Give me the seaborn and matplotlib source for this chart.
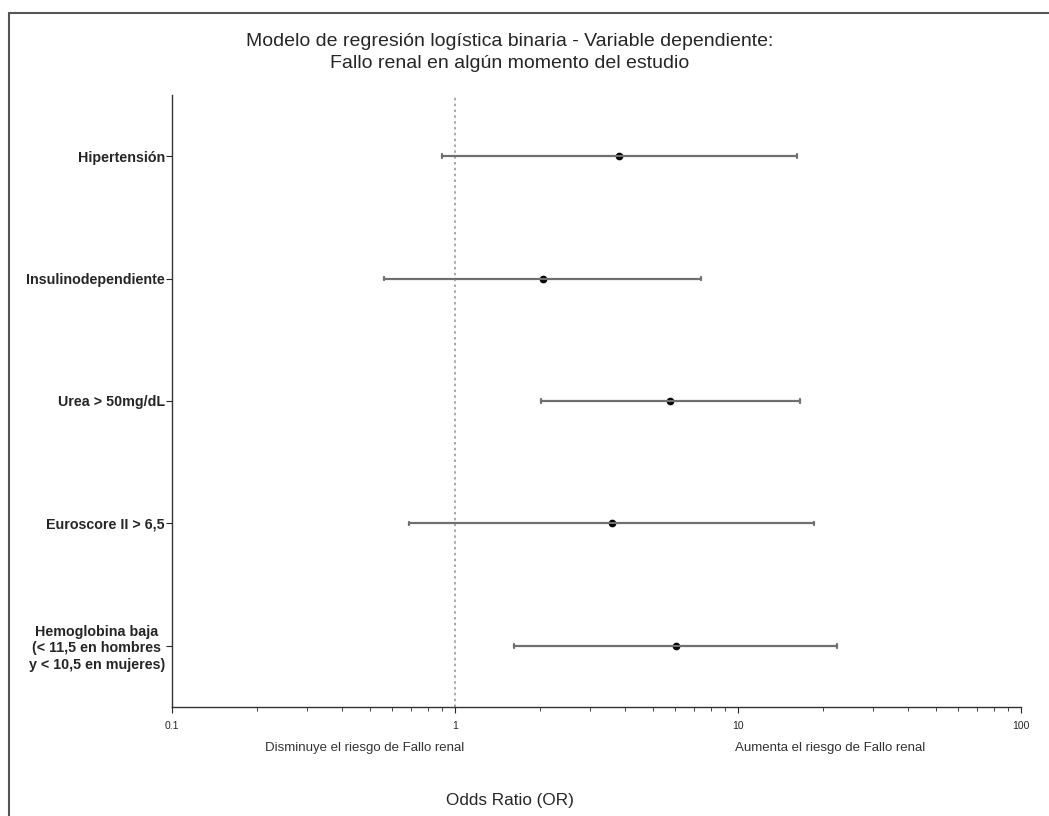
import numpy as np
import pandas as pd
import seaborn as sns
import matplotlib
matplotlib.use("Agg")
from matplotlib import pyplot as plt
from matplotlib.lines import Line2D

variables = [
    "Hipertensión",
    "Insulinodependiente",
    "Urea > 50mg/dL",
    "Euroscore II > 6,5",
    "Hemoglobina baja\n(< 11,5 en hombres\ny < 10,5 en mujeres)",
]
odds_ratio = [3.80, 2.05, 5.76, 3.59, 6.04]
ci_low = [0.90, 0.56, 2.02, 0.69, 1.62]
ci_high = [16.1, 7.40, 16.5, 18.5, 22.4]

# long table: median of (low, OR, high) is the OR, min/max give the interval
rows = []
for v, lo, o, hi in zip(variables, ci_low, odds_ratio, ci_high):
    for val in (lo, o, hi):
        rows.append({"variable": v, "or": val})
df = pd.DataFrame(rows)

sns.set_style("white")
plt.rcParams["font.family"] = ["Liberation Sans", "DejaVu Sans"]

fig = plt.figure(figsize=(10.49, 8.16), dpi=100)
W, H = 1049, 816
ax = fig.add_axes([172 / W, (H - 707) / H, (1021 - 172) / W, (707 - 95) / H])
ax.set_xscale("log")

sns.pointplot(data=df, x="or", y="variable", order=variables, orient="h",
              estimator="median", errorbar=("pi", 100), capsize=0.03,
              linestyle="none", color="black", markersize=3.5,
              err_kws={"color": "#707070", "linewidth": 1.6}, ax=ax)

ax.axvline(1, color="#9a9a9a", linestyle=(0, (1.5, 2)), linewidth=1.2, zorder=0)

ax.set_xlim(0.1, 100)
ax.set_ylim(len(variables) - 0.5, -0.5)
ax.set_xticks([0.1, 1, 10, 100])
ax.set_xticklabels(["0.1", "1", "10", "100"], fontsize=7.5)
ax.tick_params(axis="x", which="major", length=4, width=0.8, pad=6, bottom=True)
ax.tick_params(axis="x", which="minor", length=3, width=0.6, bottom=True)
ax.tick_params(axis="y", length=4, width=0.8, pad=1, left=True)
for lab in ax.get_yticklabels():
    lab.set_fontweight("bold")
    lab.set_fontsize(10.3)
    lab.set_multialignment("center")

sns.despine(ax=ax)
for s in ("left", "bottom"):
    ax.spines[s].set_color("#333333")
    ax.spines[s].set_linewidth(1.0)

ax.set_xlabel("")
ax.set_ylabel("")

fig.text(510 / W, 1 - 42 / H, "Modelo de regresión logística binaria - Variable dependiente:",
         ha="center", va="center", fontsize=14)
fig.text(510 / W, 1 - 63 / H, "Fallo renal en algún momento del estudio",
         ha="center", va="center", fontsize=14)
fig.text(365 / W, 1 - 748 / H, "Disminuye el riesgo de Fallo renal",
         ha="center", va="center", fontsize=9.5, color="#333333")
fig.text(830 / W, 1 - 748 / H, "Aumenta el riesgo de Fallo renal",
         ha="center", va="center", fontsize=9.5, color="#333333")
fig.text(510 / W, 1 - 800 / H, "Odds Ratio (OR)",
         ha="center", va="center", fontsize=12.3)

# picture frame (top and left edges visible)
fig.add_artist(Line2D([9 / W, 9 / W], [0, 1 - 13 / H], transform=fig.transFigure,
                      color="#555555", linewidth=1.5))
fig.add_artist(Line2D([9 / W, 1], [1 - 13 / H, 1 - 13 / H], transform=fig.transFigure,
                      color="#555555", linewidth=1.5))

fig.savefig("out.png", dpi=100)
